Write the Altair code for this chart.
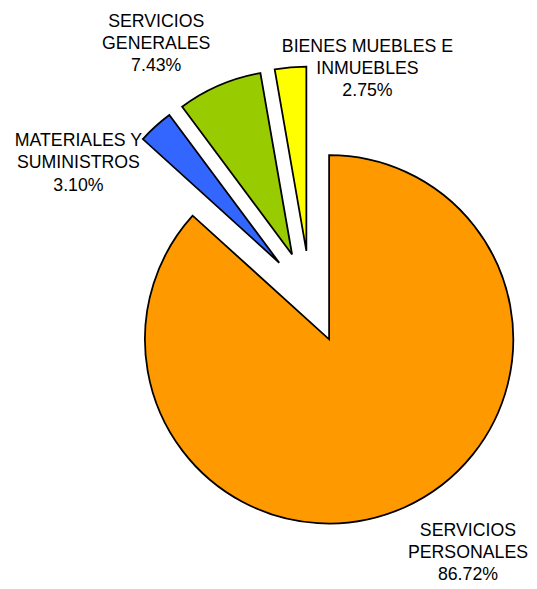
import altair as alt
import pandas as pd

# ---- data ----
categories = ["SERVICIOS PERSONALES", "MATERIALES Y SUMINISTROS",
              "SERVICIOS GENERALES", "BIENES MUEBLES E INMUEBLES"]
label_lines = ["SERVICIOS\nPERSONALES", "MATERIALES Y\nSUMINISTROS",
               "SERVICIOS\nGENERALES", "BIENES MUEBLES E\nINMUEBLES"]
percentages = [86.72, 3.10, 7.43, 2.75]
colors = ["#FF9900", "#3366FF", "#99CC00", "#FFFF00"]

# ---- layout ----
CX, CY = 307, 289        # pie centre (px, plot coords)
RADIUS = 187
EXPLODE = 47
FONT = "Liberation Sans"
FONT_SIZE = 18
LINE_H = 22.5
label_x = [467, 71.5, 150.5, 365]
label_y = [517.2, 121.9, 0.9, 25.9]

df = pd.DataFrame({
    "category": categories,
    "pct": percentages,
    "order": list(range(len(categories))),
    "label": [f"{l}\n{p:.2f}%" for l, p in zip(label_lines, percentages)],
    "lx": label_x,
    "ly": label_y,
})

base = alt.Chart(df)

pie = base.transform_window(
    cum="sum(pct)", sort=[alt.SortField("order")], frame=[None, 0]
).transform_joinaggregate(
    total="sum(pct)"
).transform_calculate(
    mid="2*PI*(datum.cum - datum.pct/2)/datum.total"
).transform_calculate(
    cx=f"{CX} + {EXPLODE}*sin(datum.mid)",
    cy=f"{CY} - {EXPLODE}*cos(datum.mid)",
).mark_arc(
    outerRadius=RADIUS, stroke="black", strokeWidth=1.8, strokeJoin="miter"
).encode(
    theta=alt.Theta("pct:Q", stack=True),
    order=alt.Order("order:Q"),
    color=alt.Color("category:N",
                    scale=alt.Scale(domain=categories, range=colors),
                    legend=None),
    x=alt.X("cx:Q", scale=None),
    y=alt.Y("cy:Q", scale=None),
)

labels = base.mark_text(
    font=FONT, fontSize=FONT_SIZE, color="black", align="center",
    baseline="top", lineBreak="\n", lineHeight=LINE_H
).encode(
    x=alt.X("lx:Q", scale=None),
    y=alt.Y("ly:Q", scale=None),
    text="label:N",
)

chart = alt.layer(pie, labels).properties(
    width=521, height=570, padding=0
).configure_view(stroke=None)

chart.save("out.html", embed_options={"renderer": "svg", "actions": False})
